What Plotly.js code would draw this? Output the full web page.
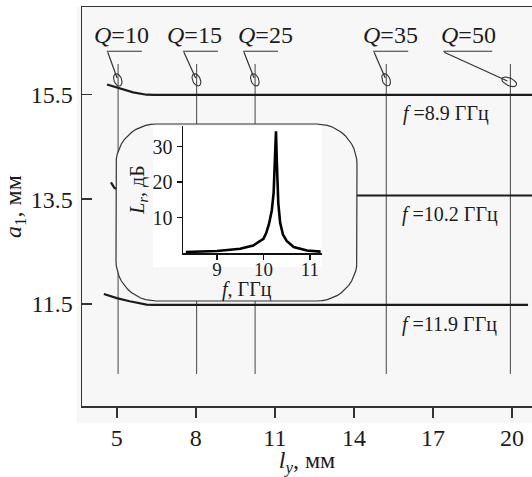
<!DOCTYPE html>
<html>
<head>
<meta charset="utf-8">
<script src="https://cdn.plot.ly/plotly-3.0.1.min.js"></script>
<style>
  body { margin: 0; background: #fff; }
  #chart { width: 532px; height: 477px; }
</style>
</head>
<body>
<div id="chart"></div>
<script>
// main plot: a1 (mm) vs l_y (mm)
const lyTicks = [5, 8, 11, 14, 17, 20];
const a1Ticks = [11.5, 13.5, 15.5];

// constant-frequency curves
const f89_ly = [4.63, 5.11, 5.62, 6.13, 6.4, 20.76];
const f89_a1 = [15.69, 15.62, 15.54, 15.495, 15.49, 15.49];
const f102_ly = [4.78, 4.9, 5.2, 5.8, 6.3, 20.76];
const f102_a1 = [13.82, 13.72, 13.64, 13.59, 13.57, 13.57];
const f119_ly = [4.51, 5.0, 5.49, 6.13, 6.4, 20.61];
const f119_a1 = [11.69, 11.61, 11.55, 11.485, 11.48, 11.48];
const freqText = ['8.9', '10.2', '11.9'];
const freqLabelLy = [17.5, 17.65, 17.63];
const freqLabelA1 = [15.14, 13.2, 11.1];

// constant-Q lines
const qValues = [10, 15, 25, 35, 50];
const qLy = [5.05, 8.03, 10.25, 15.23, 19.94];
const qA1Range = [10.16, 16.08];
const qLabelLy = [5.19, 7.94, 10.64, 15.39, 18.35];
const qUnderline = [[4.62, 5.95], [7.51, 8.84], [9.79, 11.12], [14.73, 16.06], [17.39, 19.25]];

// inset: resonance curve
const freqGHz = [8.33, 9.0, 9.5, 9.78, 10.0, 10.06, 10.12, 10.18, 10.22, 10.25, 10.27, 10.29, 10.32, 10.36, 10.42, 10.5, 10.65, 10.94, 11.23];
const lossDb = [0.3, 0.55, 1.2, 2.1, 4.0, 5.6, 8.2, 12, 17, 25, 34.3, 25, 14, 8.5, 5.2, 3.4, 1.7, 0.7, 0.4];

// pixel helpers for decorations
const PX = {l: 82, r: 532, t: 7, b: 406};
const xr = [3.68, 20.76], yr = [9.55, 17.17];
function dx(px) { return xr[0] + (px - PX.l) / (PX.r - PX.l) * (xr[1] - xr[0]); }
function dy(py) { return yr[1] - (py - PX.t) / (PX.b - PX.t) * (yr[1] - yr[0]); }
function px(x) { return PX.l + (x - xr[0]) / (xr[1] - xr[0]) * (PX.r - PX.l); }
function py(y) { return PX.t + (yr[1] - y) / (yr[1] - yr[0]) * (PX.b - PX.t); }
function domX(a, b) { return [(a - PX.l) / (PX.r - PX.l), (b - PX.l) / (PX.r - PX.l)]; }
function domY(a, b) { return [(PX.b - b) / (PX.b - PX.t), (PX.b - a) / (PX.b - PX.t)]; }

const serif = 'Liberation Serif';
const ink = '#1c1c1c';
const bg = '#f7f7f7';

let traces = [];

// vertical Q lines
let vx = [], vy = [];
qLy.forEach(function (l) {
    vx.push(l, l, null);
    vy.push(qA1Range[0], qA1Range[1], null);
});
traces.push({x: vx, y: vy, mode: 'lines', line: {color: '#555', width: 1.1}});

traces.push({x: f89_ly, y: f89_a1, mode: 'lines', line: {color: ink, width: 2.2}});
traces.push({x: f102_ly, y: f102_a1, mode: 'lines', line: {color: ink, width: 2.2}});
traces.push({x: f119_ly, y: f119_a1, mode: 'lines', line: {color: ink, width: 2.2}});

// Q label underlines, leaders and loops
let lx = [], ly = [], ox = [], oy = [];
const loopPy = 78;
qLy.forEach(function (l, i) {
    const u = qUnderline[i];
    const uy = qA1Range[1] + 0.245;
    lx.push(u[0], u[1], null);
    ly.push(uy, uy, null);
    const sx = px(u[0]) + 1, sy = py(uy) + 1;
    const cx = px(l) - (i === 4 ? 3 : 1), cy = loopPy + (i === 4 ? 3 : 0);
    lx.push(dx(sx), dx(cx), null);
    ly.push(dy(sy), dy(cy), null);
    const ang = Math.atan2(cy - sy, cx - sx);
    const a = i === 4 ? 8 : 6.5, b = 3.8;
    for (let k = 0; k <= 24; k++) {
        const t = k / 24 * 2 * Math.PI;
        const ex = a * Math.cos(t), ey = b * Math.sin(t);
        ox.push(dx(cx + 2 * Math.cos(ang) + ex * Math.cos(ang) - ey * Math.sin(ang)));
        oy.push(dy(cy + 2 * Math.sin(ang) + ex * Math.sin(ang) + ey * Math.cos(ang)));
    }
    ox.push(null); oy.push(null);
});
traces.push({x: lx, y: ly, mode: 'lines', line: {color: '#333', width: 1.2}});
traces.push({x: ox, y: oy, mode: 'lines', line: {color: '#333', width: 1.1}});

// rounded box behind the inset, on its own subplot (pixel units) so it hides the lines under it
const boxPx = [116, 124, 357, 301];
function roundBox(x0, y0, x1, y1, r) {
    let xs = [], ys = [];
    const corners = [[x1 - r, y0 + r, -Math.PI / 2], [x1 - r, y1 - r, 0], [x0 + r, y1 - r, Math.PI / 2], [x0 + r, y0 + r, Math.PI]];
    corners.forEach(function (c) {
        for (let i = 0; i <= 12; i++) {
            const a = c[2] + i / 12 * Math.PI / 2;
            xs.push(c[0] + r * Math.cos(a));
            ys.push(c[1] + r * Math.sin(a));
        }
    });
    xs.push(xs[0]); ys.push(ys[0]);
    return {x: xs, y: ys};
}
const box = roundBox(boxPx[0], boxPx[1], boxPx[2], boxPx[3], 40);
traces.push({x: box.x, y: box.y, xaxis: 'x2', yaxis: 'y2', mode: 'lines', fill: 'toself', fillcolor: bg,
    line: {color: '#333', width: 1.2}});
traces.push({x: [153, 322, 322, 153], y: [126, 126, 267, 267], xaxis: 'x2', yaxis: 'y2',
    mode: 'none', fill: 'toself', fillcolor: '#ffffff'});

// inset curve
traces.push({x: freqGHz, y: lossDb, xaxis: 'x3', yaxis: 'y3', mode: 'lines', line: {color: '#000', width: 2.6}});

let annotations = [];
qValues.forEach(function (q, i) {
    annotations.push({x: qLabelLy[i], y: 16.63, xref: 'x', yref: 'y', text: '<i>Q</i>=' + q,
        showarrow: false, font: {family: serif, size: 24, color: ink}});
});
freqText.forEach(function (t, i) {
    annotations.push({x: freqLabelLy[i], y: freqLabelA1[i], xref: 'x', yref: 'y', text: '<i>f</i> =' + t + ' ГГц',
        showarrow: false, font: {family: serif, size: 20, color: ink}});
});
annotations.push({x: dx(247), y: dy(289), xref: 'x', yref: 'y', text: '<i>f</i>, ГГц',
    showarrow: false, font: {family: serif, size: 20, color: ink}});

const hidden = {visible: false, showgrid: false, zeroline: false, fixedrange: true};

const layout = {
    width: 532,
    height: 477,
    margin: {l: PX.l, r: 532 - PX.r, t: PX.t, b: 477 - PX.b},
    paper_bgcolor: '#ffffff',
    plot_bgcolor: 'rgba(0,0,0,0)',
    showlegend: false,
    hovermode: false,
    font: {family: serif, size: 24, color: ink},
    xaxis: {
        range: xr, tickvals: lyTicks, ticks: 'outside', ticklen: 10, tickwidth: 1.5, tickcolor: '#333',
        showline: true, mirror: true, linecolor: '#333', linewidth: 1.5,
        showgrid: false, zeroline: false,
        title: {text: '<i>l</i><sub><i>y</i></sub>, мм', standoff: 0, font: {size: 24}}
    },
    yaxis: {
        range: yr, tickvals: a1Ticks, ticktext: a1Ticks.map(function (v) { return v.toFixed(1); }),
        ticks: 'inside', ticklen: 10, tickwidth: 1.5, tickcolor: '#333',
        showline: true, linecolor: '#333', linewidth: 1.5,
        showgrid: false, zeroline: false, ticklabelstandoff: 3,
        title: {text: '<i>a</i><sub>1</sub>, мм', standoff: 2, font: {size: 24}}
    },
    xaxis2: Object.assign({domain: domX(113, 360), anchor: 'y2', range: [113, 360]}, hidden),
    yaxis2: Object.assign({domain: domY(121, 304), anchor: 'x2', range: [304, 121]}, hidden),
    xaxis3: {
        domain: domX(183, 322), anchor: 'y3', range: [8.27, 11.26],
        tickvals: [9, 10, 11], ticks: 'outside', ticklen: 5, tickwidth: 1.5, tickcolor: '#111',
        showline: true, linecolor: '#111', linewidth: 1.5, showgrid: false, zeroline: false,
        tickfont: {size: 19}, ticklabelstandoff: -6
    },
    yaxis3: {
        domain: domY(126, 253), anchor: 'x3', range: [0, 35.8],
        tickvals: [10, 20, 30], ticks: 'outside', ticklen: 5, tickwidth: 1.5, tickcolor: '#111',
        showline: true, linecolor: '#111', linewidth: 1.5, showgrid: false, zeroline: false,
        tickfont: {size: 20},
        title: {text: '<i>L</i><sub><i>r</i></sub>, дБ', standoff: 2, font: {size: 20}}
    },
    annotations: annotations,
    shapes: [{type: 'rect', xref: 'paper', yref: 'paper', x0: -0.011, x1: 1, y0: -0.043, y1: 1,
        fillcolor: bg, line: {width: 0}, layer: 'below'}]
};

Plotly.newPlot('chart', traces, layout, {staticPlot: true});
</script>
</body>
</html>
